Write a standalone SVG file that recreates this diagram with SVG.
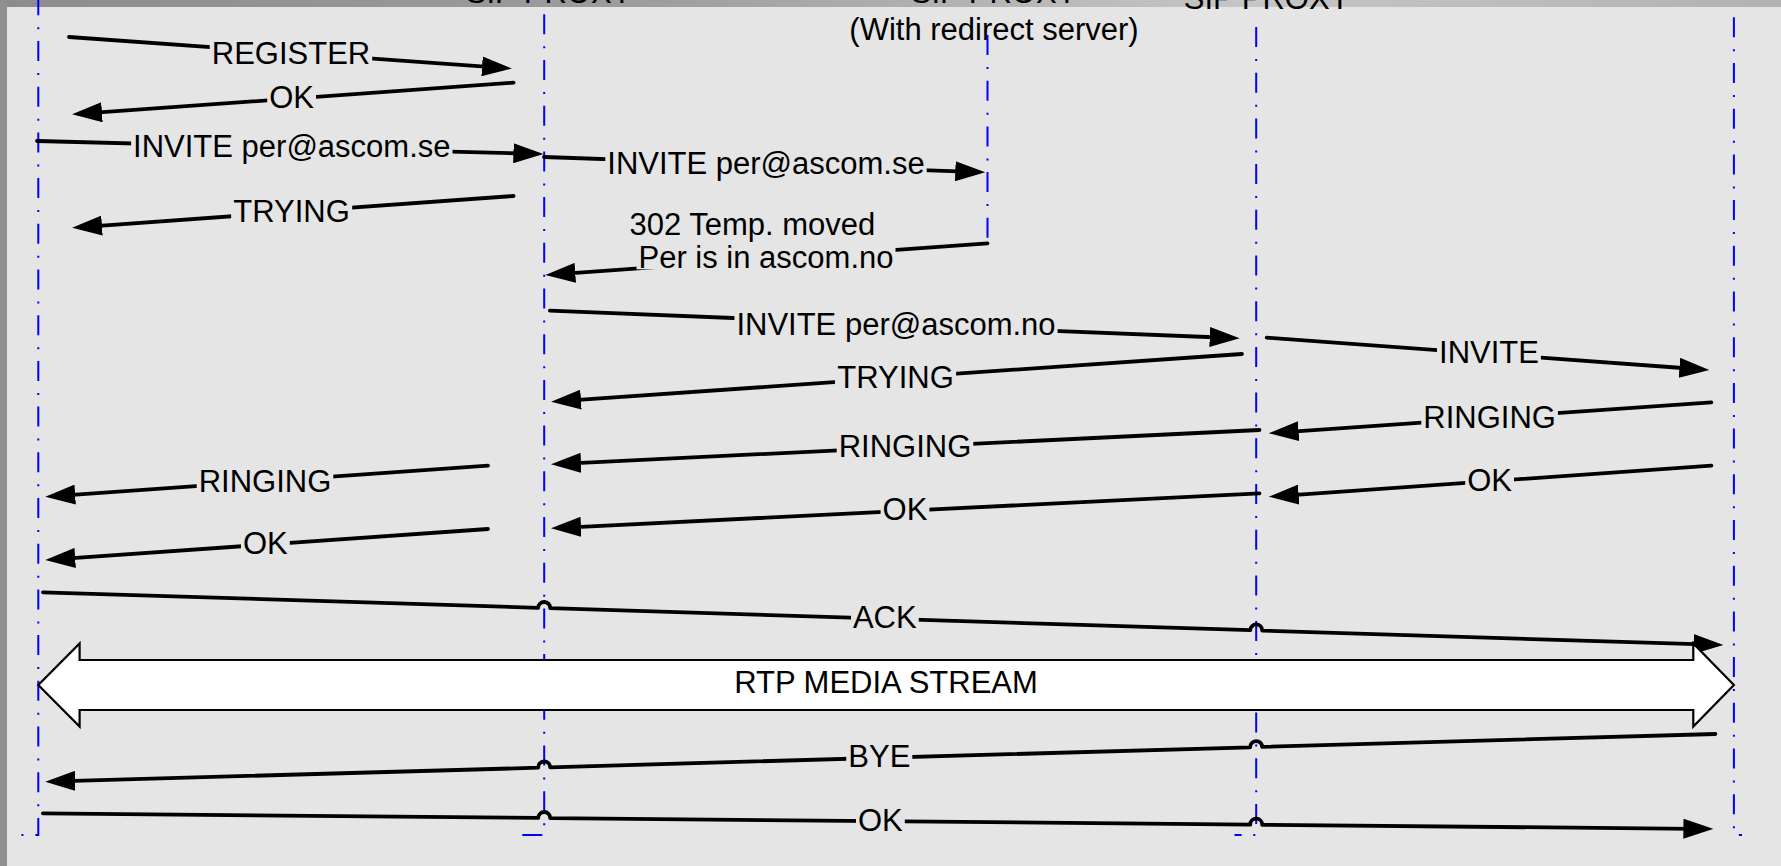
<svg xmlns="http://www.w3.org/2000/svg" width="1781" height="866" viewBox="0 0 1781 866">
  <defs>
    <linearGradient id="band" x1="0" y1="0" x2="1" y2="0">
      <stop offset="0" stop-color="#8c8c8c"/>
      <stop offset="0.35" stop-color="#9c9c9c"/>
      <stop offset="0.7" stop-color="#c6c6c6"/>
      <stop offset="1" stop-color="#b2b2b2"/>
    </linearGradient>
    <marker id="ah" markerUnits="userSpaceOnUse" markerWidth="30" markerHeight="20" refX="10" refY="10" orient="auto">
      <path d="M0,0 L30,10 L0,20 z" fill="#000"/>
    </marker>
    <style>
      .life { fill: none; stroke: #0000ff; stroke-width: 2; stroke-dasharray: 20 12 2 11.7; }
      .msg { fill: none; stroke: #000; stroke-width: 3.8; stroke-linecap: round; stroke-linejoin: round; marker-end: url(#ah); }
      .bg { fill: #e5e5e5; }
      text { font-family: "Liberation Sans", Arial, sans-serif; font-size: 31px; fill: #000; text-anchor: middle; }
    </style>
  </defs>

  <!-- slide background and outer frame band -->
  <rect x="0" y="0" width="1781" height="866" fill="url(#band)"/>
  <rect x="0" y="0" width="7" height="866" fill="#8f8f8f"/>
  <rect x="7" y="7" width="1774" height="859" fill="#e5e5e5"/>

  <!-- participant headings (cut off by the top edge) -->
  <g id="headings">
    <text x="549" y="3">SIP PROXY</text>
    <text x="994" y="3">SIP PROXY</text>
    <text x="1267" y="8.5">SIP PROXY</text>
    <text x="994" y="39.5">(With redirect server)</text>
  </g>

  <!-- lifelines -->
  <g id="lifelines">
    <g id="caller"><path class="life" d="M38.3,-4.7 V835 H21"/></g>
    <g id="proxy-se"><path class="life" d="M544.2,14.3 V835 H522"/></g>
    <g id="redirect-server"><path class="life" d="M987.5,35 V243"/></g>
    <g id="proxy-no"><path class="life" d="M1256.2,27 V835 H1234.5"/></g>
    <g id="callee"><path class="life" d="M1733.9,17.3 V835 H1742"/></g>
  </g>

  <!-- messages -->
  <g id="connectors">
    <g id="m-register">
      <path class="msg" d="M69,37 L492,67.1"/>
      <rect class="bg" x="209.7" y="40.5" width="162.5" height="24"/>
      <text x="291" y="63.5">REGISTER</text>
    </g>
    <g id="m-ok-register">
      <path class="msg" d="M513.6,82.7 L92,112.9"/>
      <rect class="bg" x="267.2" y="85.3" width="48.8" height="24"/>
      <text x="291.6" y="108.3">OK</text>
    </g>
    <g id="m-invite-se-1">
      <path class="msg" d="M37,141 L523.4,153.5"/>
      <rect class="bg" x="131.1" y="134.3" width="321.4" height="24"/>
      <text x="291.8" y="157.3">INVITE per@ascom.se</text>
    </g>
    <g id="m-invite-se-2">
      <path class="msg" d="M544,157 L965.3,171.6"/>
      <rect class="bg" x="605.3" y="151" width="321.4" height="24"/>
      <text x="766" y="174">INVITE per@ascom.se</text>
    </g>
    <g id="m-trying-1">
      <path class="msg" d="M513.6,196 L92,226.3"/>
      <rect class="bg" x="231.1" y="198.7" width="121.1" height="24"/>
      <text x="291.6" y="221.7">TRYING</text>
    </g>
    <g id="m-302">
      <path class="msg" d="M987.5,243.3 L565.3,273.6"/>
      <rect class="bg" x="636.5" y="245.3" width="259" height="24"/>
      <text x="752.4" y="235">302 Temp. moved</text>
      <text x="766" y="268.3">Per is in ascom.no</text>
    </g>
    <g id="m-invite-no">
      <path class="msg" d="M549.9,310.7 L1219.7,337.5"/>
      <rect class="bg" x="734.4" y="312" width="323.2" height="24"/>
      <text x="896" y="335">INVITE per@ascom.no</text>
    </g>
    <g id="m-invite-callee">
      <path class="msg" d="M1266.7,337.7 L1689.4,368.5"/>
      <rect class="bg" x="1437" y="340.3" width="103.9" height="24"/>
      <text x="1489" y="363.3">INVITE</text>
    </g>
    <g id="m-trying-2">
      <path class="msg" d="M1242,354 L571,400.3"/>
      <rect class="bg" x="835" y="365.3" width="121.1" height="24"/>
      <text x="895.5" y="388.3">TRYING</text>
    </g>
    <g id="m-ringing-3">
      <path class="msg" d="M1711.4,402.3 L1288.7,431.9"/>
      <rect class="bg" x="1421.3" y="405.3" width="136.6" height="24"/>
      <text x="1489.6" y="428.3">RINGING</text>
    </g>
    <g id="m-ringing-2">
      <path class="msg" d="M1259.5,430 L571,463.3"/>
      <rect class="bg" x="836.7" y="434.3" width="136.6" height="24"/>
      <text x="905" y="457.3">RINGING</text>
    </g>
    <g id="m-ringing-1">
      <path class="msg" d="M488,465.7 L65.2,495.3"/>
      <rect class="bg" x="196.7" y="468.7" width="136.6" height="24"/>
      <text x="265" y="491.7">RINGING</text>
    </g>
    <g id="m-ok-3">
      <path class="msg" d="M1711.4,465.7 L1288.7,495.3"/>
      <rect class="bg" x="1465.2" y="467.7" width="48.8" height="24"/>
      <text x="1489.6" y="490.7">OK</text>
    </g>
    <g id="m-ok-2">
      <path class="msg" d="M1259.5,493.3 L571,527.3"/>
      <rect class="bg" x="880.6" y="497" width="48.8" height="24"/>
      <text x="905" y="520">OK</text>
    </g>
    <g id="m-ok-1">
      <path class="msg" d="M488,529 L65.2,558.6"/>
      <rect class="bg" x="241" y="531" width="48.8" height="24"/>
      <text x="265.4" y="554">OK</text>
    </g>
    <g id="m-ack">
      <path class="msg" d="M42.9,592.3 L538.2,607.8 A6,6 0 0 1 550.2,608.2 L1250.2,630.2 A6,6 0 0 1 1262.2,630.6 L1703.4,644.4"/>
      <rect class="bg" x="851" y="605.3" width="67.7" height="24"/>
      <text x="884.8" y="628.3">ACK</text>
    </g>
    <g id="rtp-stream">
      <polygon points="38.3,685 79.6,643.5 79.6,660 1693.3,660 1693.3,643.5 1733.9,685 1693.3,726.5 1693.3,710 79.6,710 79.6,726.5" fill="#fff" stroke="#000" stroke-width="2.2" stroke-linejoin="miter"/>
      <text x="886" y="693.3">RTP MEDIA STREAM</text>
    </g>
    <g id="m-bye">
      <path class="msg" d="M1715.4,734 L1262.2,746.9 A6,6 0 0 0 1250.2,747.3 L550.2,767.3 A6,6 0 0 0 538.2,767.7 L65.2,781.1"/>
      <rect class="bg" x="846.3" y="744.3" width="66" height="24"/>
      <text x="879.3" y="767.3">BYE</text>
    </g>
    <g id="m-ok-bye">
      <path class="msg" d="M42.9,813.3 L538.2,817.96 A6,6 0 0 1 550.2,818.07 L1250.2,824.65 A6,6 0 0 1 1262.2,824.76 L1693.4,828.8"/>
      <rect class="bg" x="856" y="807.7" width="48.8" height="24"/>
      <text x="880.4" y="830.7">OK</text>
    </g>
  </g>
</svg>
